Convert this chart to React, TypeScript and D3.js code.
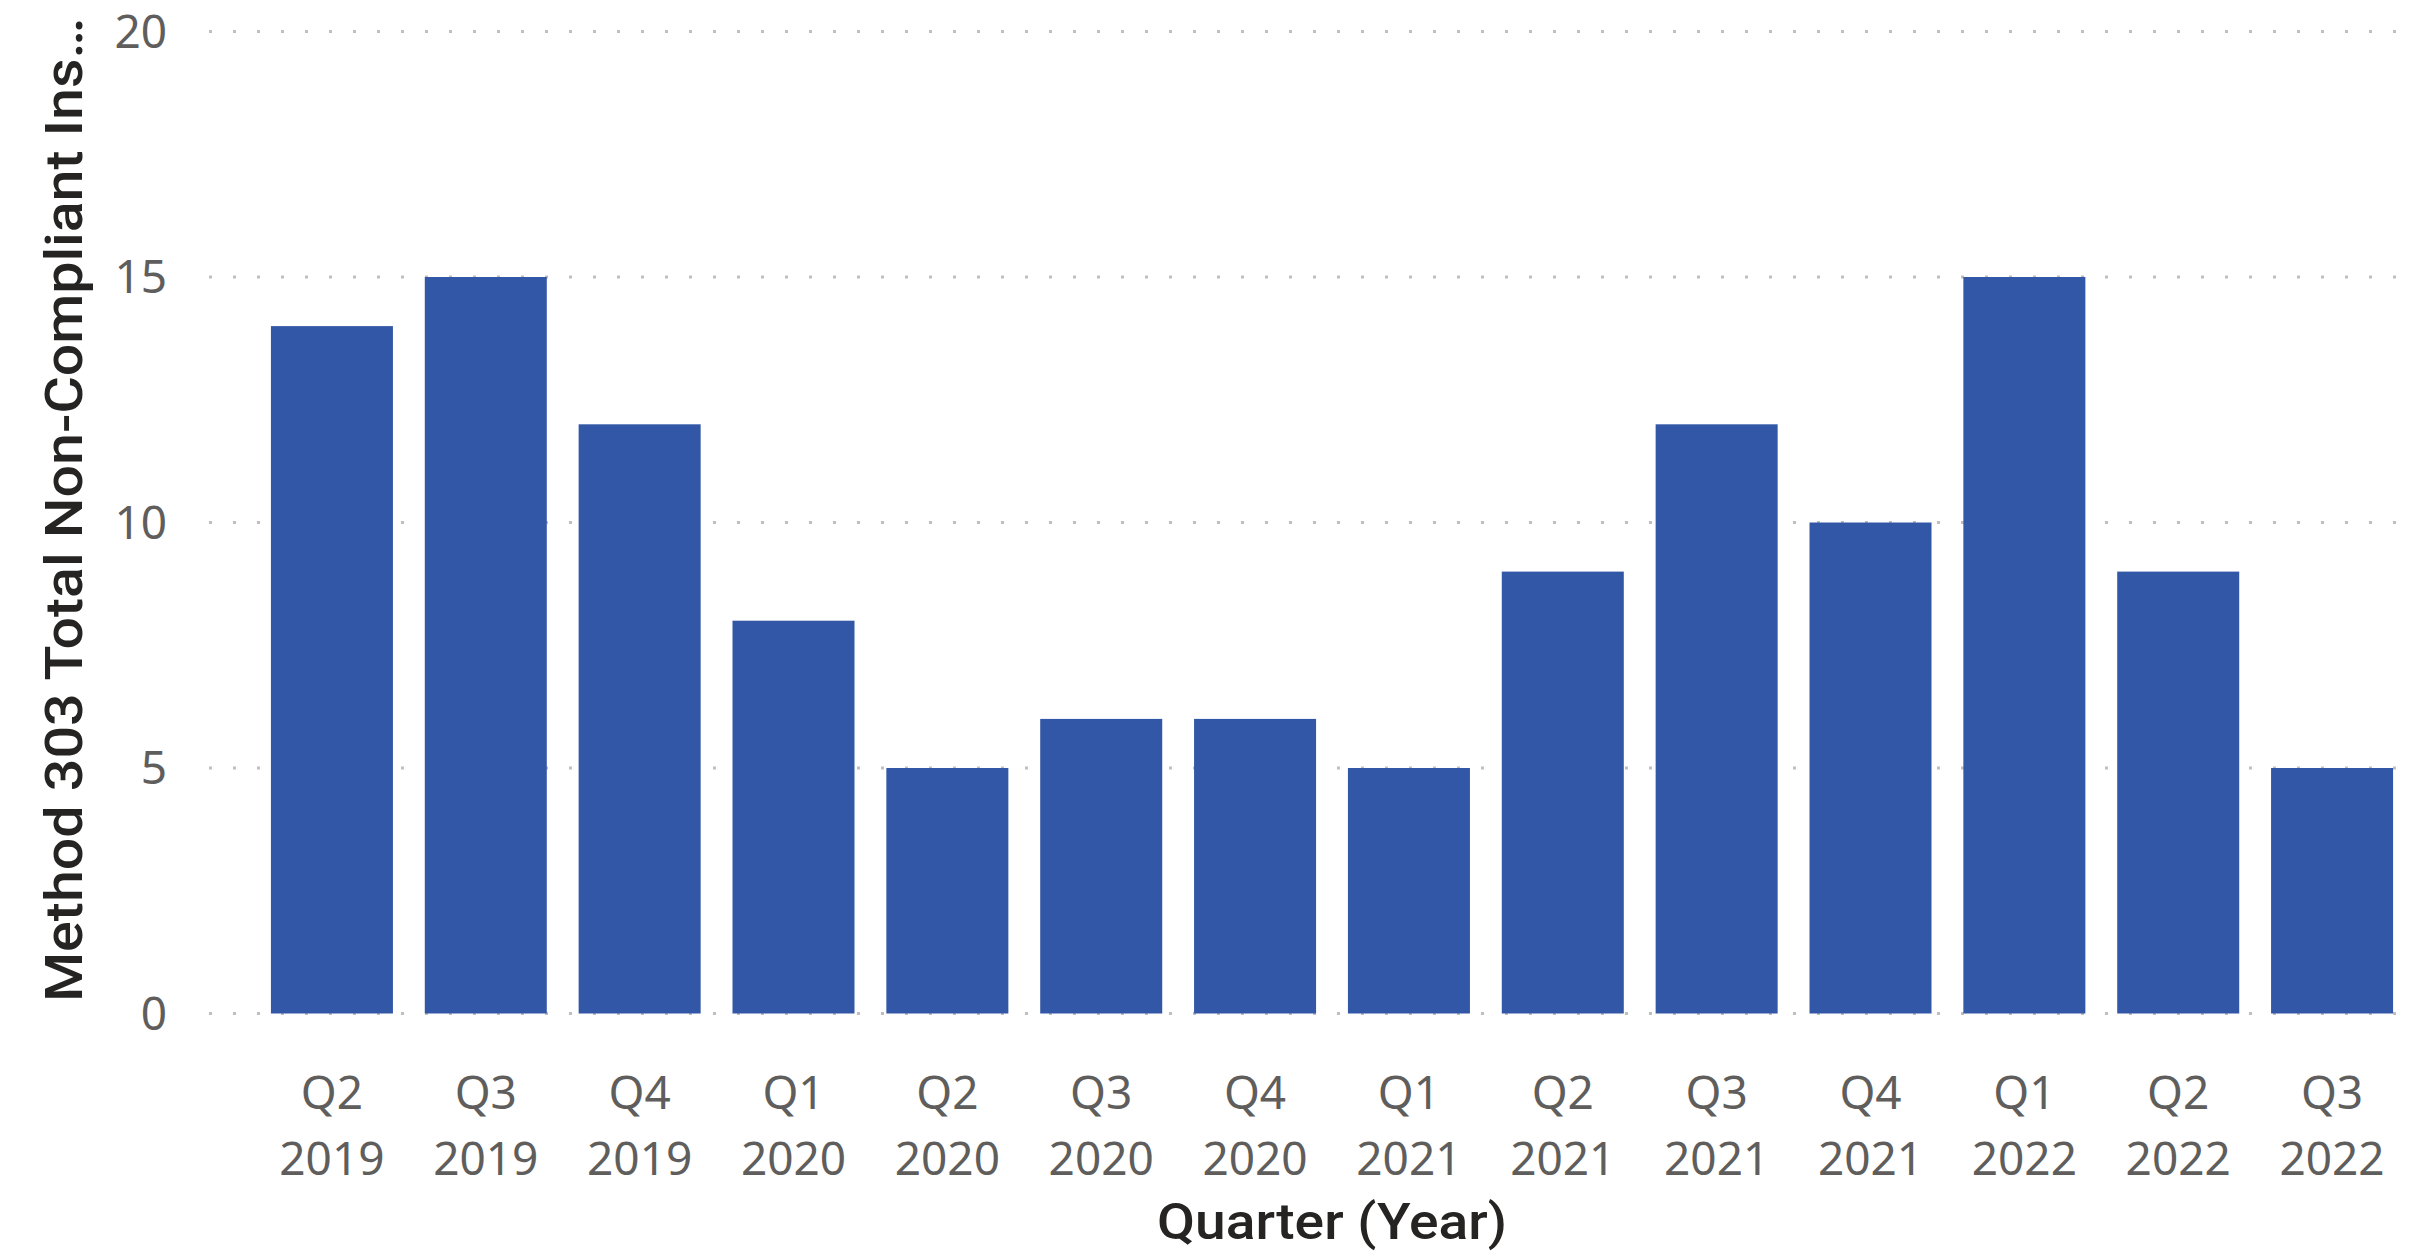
import React from 'react';
import * as d3 from 'd3';

const quarters = ['Q2', 'Q3', 'Q4', 'Q1', 'Q2', 'Q3', 'Q4', 'Q1', 'Q2', 'Q3', 'Q4', 'Q1', 'Q2', 'Q3'];
const years = ['2019', '2019', '2019', '2020', '2020', '2020', '2020', '2021', '2021', '2021', '2021', '2022', '2022', '2022'];
const inspections = [14, 15, 12, 8, 5, 6, 6, 5, 9, 12, 10, 15, 9, 5];
const yTicks = [0, 5, 10, 15, 20];

const W = 2417;
const H = 1252;

export default function App() {
  const keys = quarters.map((q, i) => `${q} ${years[i]}`);

  const x = d3.scaleBand<string>()
    .domain(keys)
    .range([255, 2409])
    .paddingInner(0.207)
    .paddingOuter(0.1035);

  const y = d3.scaleLinear()
    .domain([0, 20])
    .range([1013.5, 31.5]);

  const gridLeft = 209;
  const gridRight = 2398;
  const bars = x.range()[0] + (x.range()[1] - x.range()[0]) / 2;

  return (
    <svg width={W} height={H} style={{ position: 'absolute', left: 0, top: 0, background: '#fff' }}>
      {/* gridlines + y labels */}
      {yTicks.map(t => (
        <g key={t}>
          <line x1={gridLeft} x2={gridRight} y1={y(t)} y2={y(t)}
            stroke="#BFBFBF" strokeWidth={3} strokeDasharray="3 21" />
          <text x={167} y={y(t)} dy="0.35em" textAnchor="end"
            fontFamily="'Segoe UI', 'Noto Sans', sans-serif" fontSize={46} fill="#605E5C">
            {t}
          </text>
        </g>
      ))}

      {inspections.map((v, i) => (
        <rect key={keys[i]} x={x(keys[i])} y={y(v)} width={x.bandwidth()}
          height={y(0) - y(v)} fill="#3357A7" />
      ))}

      {keys.map((k, i) => {
        const cx = (x(k) as number) + x.bandwidth() / 2;
        return (
          <text key={k} textAnchor="middle" fontFamily="'Segoe UI', 'Noto Sans', sans-serif"
            fontSize={46} fill="#605E5C">
            <tspan x={cx} y={1109}>{quarters[i]}</tspan>
            <tspan x={cx} y={1175}>{years[i]}</tspan>
          </text>
        );
      })}

      <text x={bars} y={1239} textAnchor="middle" fontFamily="Roboto, 'DejaVu Sans', sans-serif"
        fontWeight={500} fontSize={50} fill="#252423" textLength={350} lengthAdjust="spacingAndGlyphs">
        Quarter (Year)
      </text>

      <text transform={`translate(82, ${(18 + 1002) / 2}) rotate(-90)`} textAnchor="middle"
        fontFamily="Roboto, 'DejaVu Sans', sans-serif" fontWeight={500} fontSize={51} fill="#252423"
        textLength={984} lengthAdjust="spacingAndGlyphs">
        Method 303 Total Non-Compliant Ins…
      </text>
    </svg>
  );
}
